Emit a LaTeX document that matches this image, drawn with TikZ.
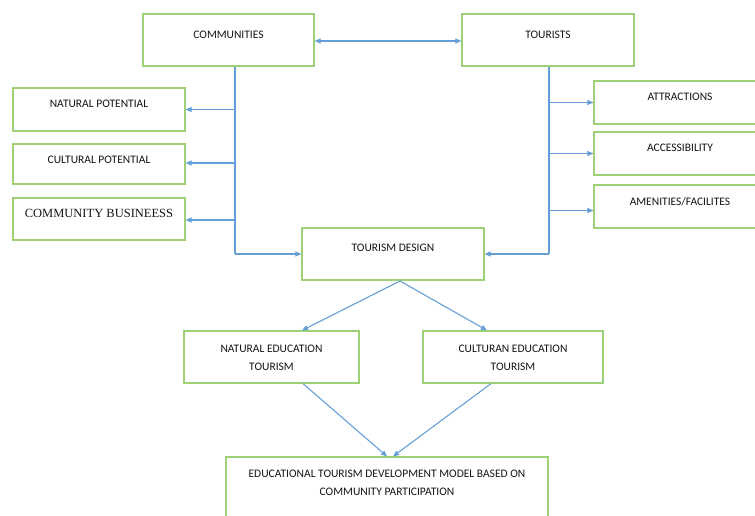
\documentclass[tikz,border=0pt]{standalone}
\usepackage{fontspec}
\setmainfont{Carlito}
\newfontfamily\serifcb{Liberation Serif}
\usetikzlibrary{arrows.meta,calc}
\definecolor{boxgreen}{RGB}{158,208,118}
\definecolor{linkblue}{RGB}{100,160,215}
\definecolor{txtgray}{RGB}{20,20,20}
\tikzset{
  box/.style={draw=boxgreen, line width=1.2pt, rectangle, inner sep=0pt},
  txt/.style={text=txtgray, font=\fontsize{11.5}{18}\selectfont, inner sep=0pt, align=center},
  link/.style={draw=linkblue, line width=1.1pt},
  arr/.style={link, -{Triangle[length=6pt,width=5pt]}},
  darr/.style={link, {Triangle[length=6pt,width=5pt]}-{Triangle[length=6pt,width=5pt]}}
}
\begin{document}
\begin{tikzpicture}[x=1pt,y=-1pt]
\useasboundingbox (0,0) rectangle (755,516);
% boxes
\node[box, minimum width=171pt, minimum height=52pt] (comm) at (228.5,40) {};
\node[txt] (commt) at (228.5,35) {COMMUNITIES};
\node[box, minimum width=172pt, minimum height=52pt] (tour) at (548,40) {};
\node[txt] (tourt) at (548,35) {TOURISTS};
\node[box, minimum width=172pt, minimum height=43pt] (np) at (99,109.5) {};
\node[txt] (npt) at (99,104) {NATURAL POTENTIAL};
\node[box, minimum width=172pt, minimum height=40pt] (cp) at (99,164) {};
\node[txt] (cpt) at (99,160) {CULTURAL POTENTIAL};
\node[box, minimum width=172pt, minimum height=42pt] (cb) at (99,219) {};
\node[txt, font=\serifcb\fontsize{12.5}{15}\selectfont] (cbt) at (99,213.5) {COMMUNITY BUSINEESS};
\node[box, minimum width=172pt, minimum height=43pt] (at) at (680,102.5) {};
\node[txt] (att) at (680,97) {ATTRACTIONS};
\node[box, minimum width=172pt, minimum height=43pt] (ac) at (680,153.5) {};
\node[txt] (act) at (680,148) {ACCESSIBILITY};
\node[box, minimum width=172pt, minimum height=43pt] (am) at (680,206.5) {};
\node[txt] (amt) at (680,201.5) {AMENITIES/FACILITES};
\node[box, minimum width=182pt, minimum height=52pt] (td) at (393,254) {};
\node[txt] (tdt) at (393,248) {TOURISM DESIGN};
\node[box, minimum width=175pt, minimum height=52pt] (ne) at (271.5,357) {};
\node[txt] (net) at (271.5,357.5) {NATURAL EDUCATION\\TOURISM};
\node[box, minimum width=180pt, minimum height=52pt] (ce) at (513,357) {};
\node[txt] (cet) at (513,357.5) {CULTURAN EDUCATION\\TOURISM};
\node[box, minimum width=322pt, minimum height=74pt] (ed) at (387,494) {};
\node[txt] (edt) at (387,483) {EDUCATIONAL TOURISM DEVELOPMENT MODEL BASED ON\\COMMUNITY PARTICIPATION};
% helper coordinates
\coordinate (cv) at (235,254);
\coordinate (tv) at (549,254);
\coordinate (tdb) at (400,281);
% connectors
\draw[darr] (comm.east |- 0,41) -- (tour.west |- 0,41);
\draw[link] (comm.south -| cv) -- (cv);
\draw[arr] (cv) -- (td.west);
\draw[arr] (np.east -| cv) -- (np.east);
\draw[arr] ($(cp.east -| cv)+(0,-1)$) -- ($(cp.east)+(0,-1)$);
\draw[arr] ($(cb.east -| cv)+(0,1)$) -- ($(cb.east)+(0,1)$);
\draw[link] (tour.south -| tv) -- (tv);
\draw[arr] (tv) -- (td.east);
\draw[arr] (at.west -| tv) -- (at.west);
\draw[arr] (ac.west -| tv) -- (ac.west);
\draw[arr] ($(am.west -| tv)+(0,4)$) -- ($(am.west)+(0,4)$);
\draw[arr] (tdb) -- ($(ne.north)+(30.5,0)$);
\draw[arr] (tdb) -- ($(ce.north)+(-26,0)$);
\draw[arr] ($(ne.south)+(31.5,0)$) -- ($(ed.north)+(0,0)$);
\draw[arr] ($(ce.south)+(-22,0)$) -- ($(ed.north)+(6,0)$);
\end{tikzpicture}
\end{document}
